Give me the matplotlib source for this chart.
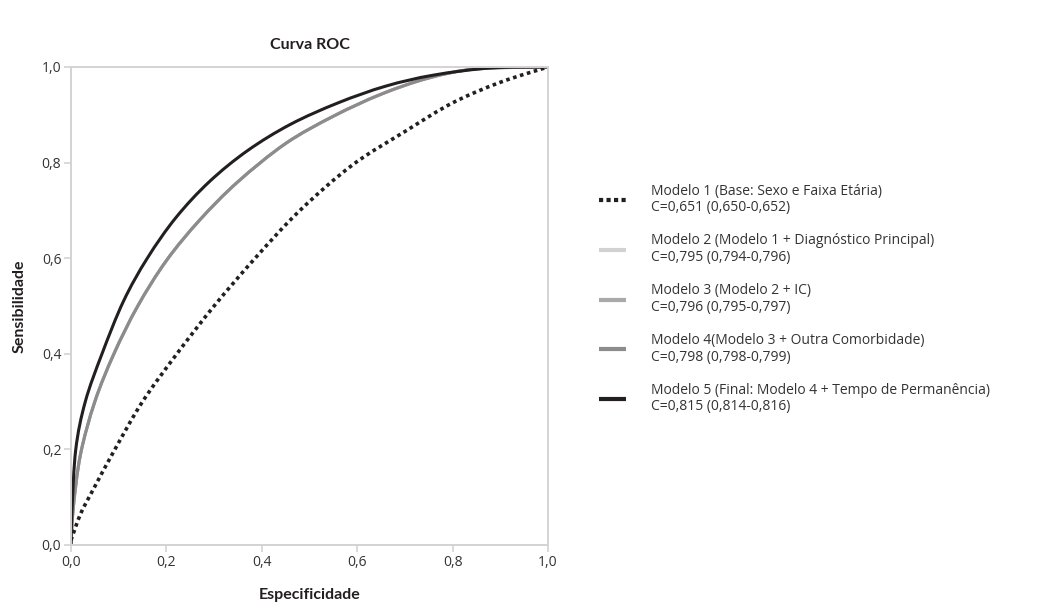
import matplotlib
matplotlib.use("Agg")
import matplotlib.pyplot as plt
from matplotlib.path import Path
from matplotlib.patches import PathPatch
from matplotlib.lines import Line2D

plt.rcParams['font.family'] = ['Open Sans', 'DejaVu Sans']

# ---- data ----
m1_x = [0.0, 0.02, 0.046, 0.092, 0.15, 0.222, 0.30, 0.386, 0.48, 0.59, 0.70, 0.80, 0.90, 1.0]
m1_y = [0.01, 0.065, 0.115, 0.20, 0.30, 0.40, 0.50, 0.60, 0.70, 0.795, 0.865, 0.925, 0.968, 1.0]

gray_x = [0.0, 0.005, 0.02, 0.05, 0.09, 0.14, 0.20, 0.27, 0.35, 0.45, 0.55, 0.65, 0.75, 0.85, 1.0]
gray_y = [0.0, 0.08, 0.19, 0.30, 0.40, 0.50, 0.595, 0.68, 0.76, 0.84, 0.897, 0.943, 0.977, 0.996, 1.0]

m2_x, m2_y = gray_x, gray_y
m3_x, m3_y = gray_x, gray_y
m4_x, m4_y = gray_x, gray_y

m5_x = [0.0, 0.002, 0.01, 0.03, 0.065, 0.11, 0.16, 0.22, 0.29, 0.37, 0.46, 0.56, 0.66, 0.76, 0.88, 1.0]
m5_y = [0.0, 0.07, 0.20, 0.30, 0.40, 0.51, 0.60, 0.685, 0.76, 0.825, 0.88, 0.925, 0.96, 0.983, 0.998, 1.0]

labels = [
    "Modelo 1 (Base: Sexo e Faixa Etária)\nC=0,651 (0,650-0,652)",
    "Modelo 2 (Modelo 1 + Diagnóstico Principal)\nC=0,795 (0,794-0,796)",
    "Modelo 3 (Modelo 2 + IC)\nC=0,796 (0,795-0,797)",
    "Modelo 4(Modelo 3 + Outra Comorbidade)\nC=0,798 (0,798-0,799)",
    "Modelo 5 (Final: Modelo 4 + Tempo de Permanência)\nC=0,815 (0,814-0,816)",
]
ticks = [0.0, 0.2, 0.4, 0.6, 0.8, 1.0]
tick_labels = ["0,0", "0,2", "0,4", "0,6", "0,8", "1,0"]

dark = "#231f20"
colors = ["#231f20", "#d2d2d2", "#a9a9a9", "#8c8c8c", "#231f20"]


def smooth_path(xs, ys):
    """Smoothed line (Catmull-Rom as cubic Bezier) through the data points."""
    pts = list(zip(xs, ys))
    n = len(pts)
    verts = [pts[0]]
    codes = [Path.MOVETO]
    for i in range(n - 1):
        p0 = pts[i - 1] if i > 0 else pts[i]
        p1 = pts[i]
        p2 = pts[i + 1]
        p3 = pts[i + 2] if i + 2 < n else pts[i + 1]
        c1 = (p1[0] + (p2[0] - p0[0]) / 6, p1[1] + (p2[1] - p0[1]) / 6)
        c2 = (p2[0] - (p3[0] - p1[0]) / 6, p2[1] - (p3[1] - p1[1]) / 6)
        verts += [c1, c2, p2]
        codes += [Path.CURVE4] * 3
    return Path(verts, codes)


# ---- figure ----
fig = plt.figure(figsize=(10.43, 6.02), dpi=100)
ax = fig.add_axes([71/1043, 57/602, 477/1043, 478/602])

series = [(m2_x, m2_y, colors[1], "-"), (m3_x, m3_y, colors[2], "-"),
          (m4_x, m4_y, colors[3], "-"), (m1_x, m1_y, colors[0], "dot"),
          (m5_x, m5_y, colors[4], "-")]
for xs, ys, c, st in series:
    if st == "dot":
        p = PathPatch(smooth_path(xs, ys), fill=False, edgecolor=c, lw=2.6,
                      linestyle=(0, (1, 1)), capstyle="butt", transform=ax.transData)
    else:
        p = PathPatch(smooth_path(xs, ys), fill=False, edgecolor=c, lw=2.2,
                      capstyle="butt", transform=ax.transData)
    ax.add_patch(p)

ax.set_xlim(0, 1)
ax.set_ylim(0, 1)
ax.set_xticks(ticks)
ax.set_xticklabels(tick_labels)
ax.set_yticks(ticks)
ax.set_yticklabels(tick_labels)
for s in ax.spines.values():
    s.set_color("#d3d3d3")
    s.set_linewidth(1.4)
ax.tick_params(axis="both", direction="out", length=5, width=1.2, color="#d3d3d3",
               labelsize=10, labelcolor="#333333", pad=2)

ax.set_title("Curva ROC", fontsize=11.5, fontweight="bold", color=dark, pad=13,
             family=["Lato", "DejaVu Sans"])
ax.set_xlabel("Especificidade", fontsize=11.5, fontweight="bold", color=dark, labelpad=13,
              family=["Lato", "DejaVu Sans"])
ax.set_ylabel("Sensibilidade", fontsize=11.5, fontweight="bold", color=dark, labelpad=11,
              family=["Lato", "DejaVu Sans"])

handles = [Line2D([], [], color=colors[0], lw=3.0, linestyle=(0, (1, 0.8)), dash_capstyle="butt")]
handles += [Line2D([], [], color=c, lw=3.0, solid_capstyle="butt") for c in colors[1:]]
leg = fig.legend(handles, labels, loc="center left",
                 bbox_to_anchor=(593/1043, 1 - 299/602), frameon=False,
                 fontsize=10, handlelength=2.0, handletextpad=1.8, labelspacing=1.3,
                 borderaxespad=0)
for t in leg.get_texts():
    t.set_color("#333333")
    t.set_linespacing(1.15)

fig.savefig("out.png", dpi=100)
